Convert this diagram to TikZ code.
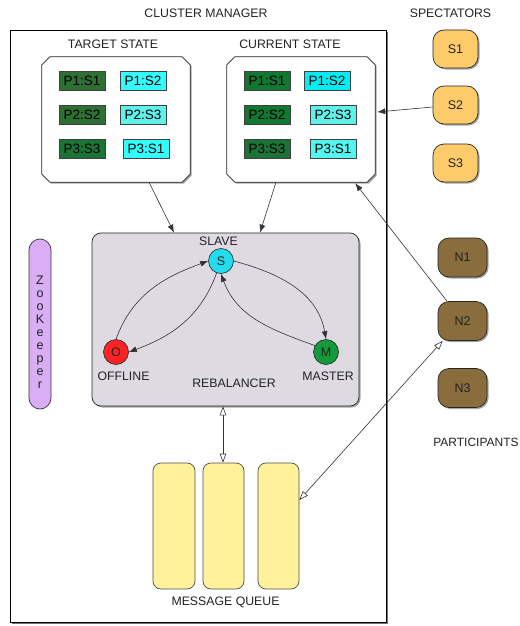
\documentclass[tikz,border=0pt]{standalone}
\usepackage{fontspec}
\setmainfont{Liberation Sans}
\usetikzlibrary{arrows.meta,shadows}
\definecolor{txt}{HTML}{222222}
\definecolor{gA}{HTML}{2F6F33}
\definecolor{gB}{HTML}{117832}
\definecolor{gC}{HTML}{1B7436}
\definecolor{cA}{HTML}{33FCFC}
\definecolor{cB}{HTML}{60F2EA}
\definecolor{cC}{HTML}{00EEF2}
\definecolor{spec}{HTML}{FECB6B}
\definecolor{part}{HTML}{8A6D3D}
\definecolor{zk}{HTML}{D9AEF5}
\definecolor{rebal}{HTML}{DDDAE2}
\definecolor{queue}{HTML}{FFF29A}
\definecolor{cS}{HTML}{22DDF0}
\definecolor{cO}{HTML}{FF2222}
\definecolor{cM}{HTML}{149A3A}
\begin{document}
\begin{tikzpicture}[x=1pt,y=-1pt,
  lbl/.style={font=\fontsize{12.3}{14}\selectfont, text=txt, inner sep=0pt},
  shad/.style={drop shadow={shadow xshift=1.5pt,shadow yshift=-1.5pt,opacity=.35,fill=black}},
  cell/.style={draw=black!75, line width=0.6pt, minimum width=46pt, minimum height=19pt, inner sep=0pt, font=\fontsize{13.5}{15}\selectfont, text=black},
  actor/.style={draw=black!85, line width=0.7pt, rounded corners=11pt, minimum width=45pt, minimum height=38pt, inner sep=0pt, font=\fontsize{12.5}{14}\selectfont, text=txt, shad},
  qbox/.style={draw=black!70, line width=0.7pt, fill=queue, rounded corners=8pt, minimum height=126pt, inner sep=0pt},
  st/.style={circle, draw=black!85, line width=0.6pt, minimum size=25pt, inner sep=0pt, font=\fontsize{12.5}{14}\selectfont, text=txt},
  conn/.style={draw=black!80, line width=0.6pt},
  tip/.style={-{Latex[length=8pt,width=6pt]}},
  otip/.style={{Triangle[open,length=9pt,width=6.5pt]}-{Triangle[open,length=9pt,width=6.5pt]}}
]
\useasboundingbox (0,0) rectangle (519,626);

% cluster manager
\node[draw, line width=0.8pt, fill=white, minimum width=376pt, minimum height=592pt, inner sep=0pt,
  drop shadow={shadow xshift=2pt,shadow yshift=-2pt,opacity=.55,fill=black}] (cm) at (198,326) {};
\node[lbl] (cmlbl) at (206,13) {CLUSTER MANAGER};

% state boxes
\node[minimum width=148pt, minimum height=125pt, inner sep=0pt] (tgt) at (116,119.5) {};
\node[minimum width=148pt, minimum height=125pt, inner sep=0pt] (cur) at (301,119.5) {};
\foreach \b in {tgt,cur}{
  \draw[fill=white, line width=0.7pt, draw=black!85, shad]
    ([xshift=8pt]\b.north west) -- ([xshift=-8pt]\b.north east) -- ([yshift=-8pt]\b.north east)
    -- ([yshift=8pt]\b.south east) -- ([xshift=-8pt]\b.south east) -- ([xshift=8pt]\b.south west)
    -- ([yshift=8pt]\b.south west) -- ([yshift=-8pt]\b.north west) -- cycle;
}
\node[lbl] (tgtlbl) at (113,44) {TARGET STATE};
\node[lbl] (curlbl) at (290,44) {CURRENT STATE};

\node[cell, fill=gA] (t11) at (82,80.5) {P1:S1};
\node[cell, fill=cA] (t12) at (143,80.5) {P1:S2};
\node[cell, fill=gA] (t22) at (82,114.5) {P2:S2};
\node[cell, fill=cB] (t23) at (143,114.5) {P2:S3};
\node[cell, fill=gC] (t33) at (82,148.5) {P3:S3};
\node[cell, fill=cA] (t31) at (146,148.5) {P3:S1};

\node[cell, fill=gB] (c11) at (267,80.5) {P1:S1};
\node[cell, fill=cC] (c12) at (327,80.5) {P1:S2};
\node[cell, fill=gB] (c22) at (267,114.5) {P2:S2};
\node[cell, fill=cB] (c23) at (333,114.5) {P2:S3};
\node[cell, fill=gC] (c33) at (267,148.5) {P3:S3};
\node[cell, fill=cB!70!cA] (c31) at (333,148.5) {P3:S1};

% spectators
\node[lbl] (speclbl) at (450.5,13) {SPECTATORS};
\node[actor, fill=spec] (S1) at (455.5,49) {S1};
\node[actor, fill=spec] (S2) at (455.5,105) {S2};
\node[actor, fill=spec] (S3) at (455.5,163) {S3};

% participants
\node[actor, fill=part, minimum width=49pt, minimum height=39pt] (N1) at (462.5,257.5) {N1};
\node[actor, fill=part, minimum width=49pt, minimum height=39pt] (N2) at (462.5,321) {N2};
\node[actor, fill=part, minimum width=49pt, minimum height=39pt] (N3) at (462.5,388) {N3};
\node[lbl, font=\fontsize{12}{14}\selectfont] (partlbl) at (476,442) {PARTICIPANTS};

% zookeeper
\node[draw=black!80, line width=0.7pt, fill=zk, rounded corners=11pt, minimum width=22pt, minimum height=170pt, inner sep=0pt] (zk) at (40,324) {};
\node[font=\fontsize{12.5}{13}\selectfont, text=txt, align=center, inner sep=0pt] (zktxt) at (40,332)
  {Z\\o\\o\\K\\e\\e\\p\\e\\r};

% rebalancer
\node[draw=black!85, line width=0.7pt, fill=rebal, rounded corners=9pt, minimum width=267pt, minimum height=173pt, inner sep=0pt, shad] (reb) at (225.5,319.5) {};
\node[lbl] (slavelbl) at (218.5,241) {SLAVE};
\node[lbl] (offlbl) at (123.5,376) {OFFLINE};
\node[lbl] (maslbl) at (328,376) {MASTER};
\node[lbl] (reblbl) at (234,383) {REBALANCER};
\node[st, fill=cS] (S) at (221,261) {S};
\node[st, fill=cO] (O) at (116,352) {O};
\node[st, fill=cM] (M) at (326,352) {M};

\draw[conn, tip] (O.north) to[out=70, in=200] (S.west);
\draw[conn, tip] (S.250) to[out=250, in=20] (O.east);
\draw[conn, tip] (S.east) to[out=-15, in=100] (M.north);
\draw[conn, tip] (M.150) to[out=160, in=-70] (S.south);

% queues
\node[qbox, minimum width=42pt] (q1) at (174,526) {};
\node[qbox, minimum width=41pt] (q2) at (223.5,526) {};
\node[qbox, minimum width=41pt] (q3) at (278.5,526) {};
\node[lbl] (mqlbl) at (225.5,602) {MESSAGE QUEUE};

% connectors
\draw[conn, tip] ([yshift=-2pt]S2.west) -- ([xshift=2pt,yshift=7.5pt]cur.east);
\draw[conn, tip] ([xshift=33pt]tgt.south) -- ([xshift=-51.5pt]reb.north);
\draw[conn, tip] ([xshift=-25pt]cur.south) -- ([xshift=34.5pt]reb.north);
\draw[conn, tip] ([xshift=-15.5pt]N2.north) -- ([xshift=-20pt,yshift=-1pt]cur.south east);
\draw[conn, otip] ([xshift=-2.5pt]reb.south) -- ([xshift=-0.5pt]q2.north);
\draw[conn, otip] ([yshift=26pt]q3.east) -- ([xshift=5pt]N2.south west);
\end{tikzpicture}
\end{document}
